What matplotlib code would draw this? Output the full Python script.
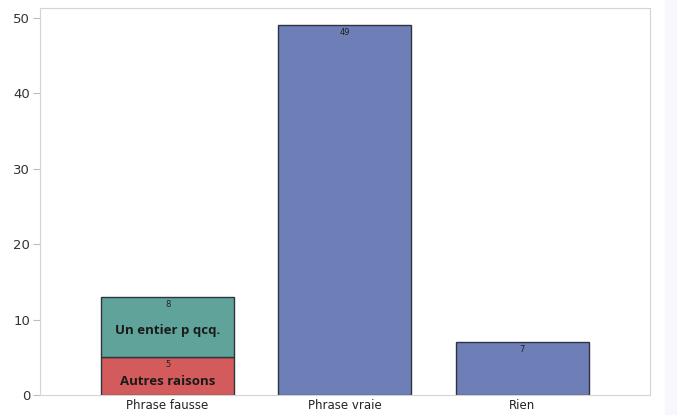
import matplotlib
matplotlib.use("Agg")
from matplotlib import pyplot as plt
from matplotlib.patches import Rectangle

# data
categories = ["Phrase fausse", "Phrase vraie", "Rien"]
autres = [5, 0, 0]        # red part (only first bar)
entier = [8, 0, 0]        # teal part (only first bar)
single = [0, 49, 7]       # plain blue bars
seg_labels = ["Autres raisons", "Un entier p qcq."]

BLUE = "#6e7fb8"
TEAL = "#5fa39b"
RED = "#d45b5b"
EDGE = "#2f3340"

fig = plt.figure(figsize=(6.77, 4.15), dpi=100)
# light bluish strip on the right side of the screenshot
fig.patches.append(Rectangle((0.982, 0), 0.018, 1, transform=fig.transFigure,
                             color="#f7f8fd", zorder=0))
ax = fig.add_axes([0.059, 0.048, 0.901, 0.933])

x = list(range(len(categories)))
w = 0.75

# stacked bar for the first category
ax.bar(x[0], autres[0], width=w, color=RED, edgecolor=EDGE, linewidth=1)
ax.bar(x[0], entier[0], bottom=autres[0], width=w, color=TEAL, edgecolor=EDGE, linewidth=1)
ax.bar(x[1:], single[1:], width=w, color=BLUE, edgecolor=EDGE, linewidth=1)

# value labels near the top of each segment
ax.text(x[0], autres[0] - 0.35, str(autres[0]), ha="center", va="top", fontsize=6, color="#222")
ax.text(x[0], autres[0] + entier[0] - 0.35, str(entier[0]), ha="center", va="top", fontsize=6, color="#222")
for i in x[1:]:
    ax.text(i, single[i] - 0.35, str(single[i]), ha="center", va="top", fontsize=6, color="#222")

# segment names written inside the bar
ax.text(x[0], autres[0] * 0.36, seg_labels[0], ha="center", va="center",
        fontsize=9.5, fontweight="bold", color="#1a1a1a", family="Open Sans")
ax.text(x[0], autres[0] + entier[0] * 0.45, seg_labels[1], ha="center", va="center",
        fontsize=9.5, fontweight="bold", color="#1a1a1a", family="Open Sans")

ax.set_xlim(-0.72, 2.72)
ax.set_ylim(0, 51.3)
ax.set_yticks([0, 10, 20, 30, 40, 50])
ax.set_xticks(x)
ax.set_xticklabels(categories)

for s in ax.spines.values():
    s.set_color("#d4d4d4")
ax.tick_params(axis="y", length=5, color="#bdbdbd", labelsize=9.5, labelcolor="#333", pad=2)
ax.tick_params(axis="x", length=0, labelsize=8.5, labelcolor="#222", pad=3)

fig.savefig("out.png", dpi=100)
